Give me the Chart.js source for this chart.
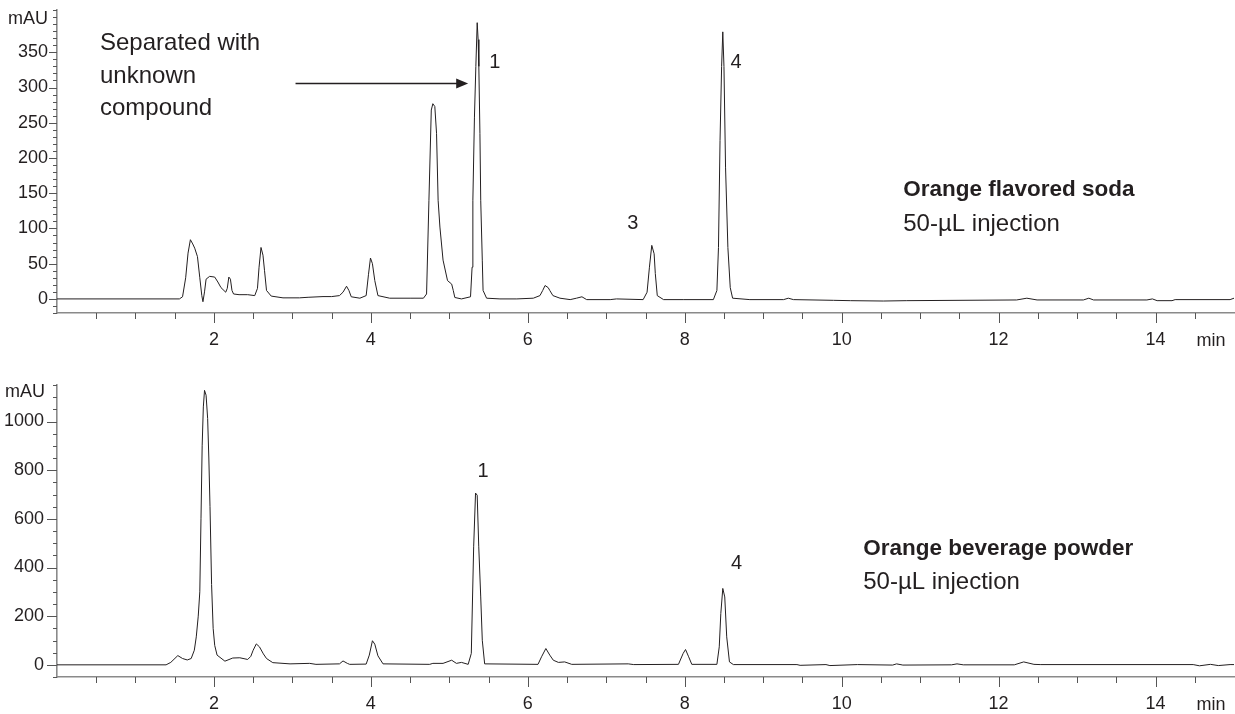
<!DOCTYPE html>
<html>
<head>
<meta charset="utf-8">
<script src="https://cdn.jsdelivr.net/npm/chart.js@4.4.1/dist/chart.umd.min.js"></script>
<style>
  html, body { margin: 0; padding: 0; background: #fff; }
  #wrap { position: relative; width: 1235px; height: 714px; }
  canvas { position: absolute; left: 0; }
  #sodaChart { top: 0; }
  #powderChart { top: 357px; }
</style>
</head>
<body>
<div id="wrap">
  <canvas id="sodaChart" width="1235" height="357"></canvas>
  <canvas id="powderChart" width="1235" height="357"></canvas>
</div>
<script>
const FONT = "'Liberation Sans', Arial, sans-serif";
const INK = '#231f20';
const AXIS = '#8a8a8a';
const TICK = '#555555';

// Orange flavored soda (min / mAU)
const sodaTime = [
  0, 1.56, 1.60, 1.64, 1.67, 1.70, 1.73, 1.755, 1.79, 1.82,
  1.845, 1.86, 1.88, 1.90, 1.945, 2.01, 2.05, 2.09, 2.15, 2.17,
  2.19, 2.21, 2.23, 2.25, 2.32, 2.43, 2.52, 2.555, 2.575, 2.60,
  2.625, 2.645, 2.67, 2.73, 2.88, 3.09, 3.20, 3.39, 3.50, 3.60,
  3.645, 3.69, 3.72, 3.75, 3.86, 3.94, 3.97, 3.995, 4.02, 4.05,
  4.09, 4.24, 4.50, 4.67, 4.71, 4.74, 4.77, 4.79, 4.815, 4.837,
  4.857, 4.88, 4.92, 4.977, 5.03, 5.05, 5.07, 5.155, 5.27, 5.29,
  5.30, 5.32, 5.338, 5.355, 5.367, 5.376, 5.39, 5.40, 5.42, 5.43,
  5.475, 5.645, 5.86, 6.07, 6.155, 6.19, 6.22, 6.26, 6.28, 6.32,
  6.41, 6.54, 6.62, 6.69, 6.75, 7.05, 7.13, 7.47, 7.52, 7.55,
  7.58, 7.61, 7.625, 7.65, 7.73, 7.98, 8.365, 8.41, 8.43, 8.45,
  8.47, 8.485, 8.50, 8.52, 8.55, 8.58, 8.61, 8.83, 9.26, 9.32,
  9.385, 9.895, 10.11, 10.53, 10.83, 12.23, 12.36, 12.49, 13.08, 13.15,
  13.21, 13.89, 13.96, 14.02, 14.21, 14.25, 14.95, 15.0
];
const sodaAbs = [
  0, 0, 3, 30, 65, 84, 78, 72, 60, 30,
  5, -4, 10, 28, 32, 31, 24, 16, 9.5, 15,
  31, 28, 12, 7, 6, 6, 4.7, 15, 45, 73,
  62, 40, 12, 4, 1.5, 1.5, 2.3, 3.3, 3.3, 4.7,
  9.5, 18, 12, 3, 1, 4.7, 35, 58, 50, 26,
  4.7, 1, 1, 1, 7, 140, 268, 277, 273, 235,
  140, 102, 55, 26, 21, 12, 2, 0, 3, 45,
  140, 258, 330, 392, 368, 330, 235, 140, 55, 12,
  1, 0, 0, 1, 4.7, 12, 19, 16, 12, 4.7,
  1, -1, 1, 3, -1, -1, 0, -1, 9.5, 45,
  76, 64, 36, 4.7, -1, -1, -1, 12, 73, 225,
  330, 379, 330, 187, 73, 16, 1, -1, -1, 1,
  -1, -2, -2.5, -3, -2.5, -1.5, 1, -1.5, -1.5, 1,
  -1.5, -1.5, 0, -2.5, -2.5, -1, -1, 1
];

// Orange beverage powder (min / mAU)
const powderTime = [
  0, 1.39, 1.45, 1.54, 1.60, 1.66, 1.71, 1.75, 1.775, 1.80,
  1.82, 1.835, 1.85, 1.865, 1.88, 1.90, 1.92, 1.935, 1.95, 1.97,
  1.99, 2.01, 2.04, 2.14, 2.24, 2.33, 2.43, 2.47, 2.50, 2.54,
  2.58, 2.63, 2.67, 2.75, 2.97, 3.22, 3.30, 3.60, 3.645, 3.70,
  3.73, 3.94, 3.98, 4.02, 4.05, 4.09, 4.155, 4.75, 4.79, 4.92,
  5.03, 5.09, 5.155, 5.24, 5.28, 5.31, 5.334, 5.355, 5.375, 5.40,
  5.42, 5.45, 6.13, 6.175, 6.23, 6.28, 6.325, 6.39, 6.47, 6.56,
  7.28, 7.35, 7.92, 7.98, 8.01, 8.05, 8.09, 8.41, 8.44, 8.46,
  8.485, 8.51, 8.535, 8.57, 8.62, 9.43, 9.47, 9.80, 9.85, 10.20,
  10.65, 10.70, 10.78, 11.40, 11.47, 11.55, 12.20, 12.32, 12.45, 12.53,
  14.48, 14.56, 14.70, 14.80, 14.95, 15.0
];
const powderAbs = [
  0, 0, 10, 38, 26, 20, 26, 60, 115, 200,
  300, 600, 900, 1060, 1128, 1108, 1012, 850, 650, 330,
  150, 80, 40, 15, 28, 29, 22, 35, 60, 86,
  74, 45, 26, 9, 4, 6, 2, 4, 16, 6,
  2, 3, 40, 99, 85, 37, 4, 2, 6, 6,
  19, 6, 10, 2, 47, 485, 706, 697, 485, 279,
  101, 4, 2, 33, 67, 40, 19, 10, 12, 2,
  4, 1, 2, 47, 63, 33, 2, 2, 74, 211,
  314, 279, 115, 12, 1, 1, -2, 1, -3, 1,
  -1, 4, -1, 0, 4, 0, 0, 12, 2, 1,
  1, -4, 2, -3, 1, 1
];

// axis labels
const timeLabels = [2, 4, 6, 8, 10, 12, 14];
const sodaYLabels = [0, 50, 100, 150, 200, 250, 300, 350];
const powderYLabels = [0, 200, 400, 600, 800, 1000];

// tick marks, unit labels and free text
const axisDecor = {
  id: 'axisDecor',
  afterDraw(chart, args, opts) {
    const { ctx, chartArea, scales: { x, y } } = chart;
    ctx.save();
    ctx.strokeStyle = TICK;
    ctx.lineWidth = 1;
    ctx.beginPath();
    x.ticks.forEach(t => {
      const px = Math.round(x.getPixelForValue(t.value)) + 0.5;
      const len = timeLabels.includes(t.value) ? 10 : 6;
      ctx.moveTo(px, chartArea.bottom);
      ctx.lineTo(px, chartArea.bottom + len);
    });
    y.ticks.forEach(t => {
      const py = Math.round(y.getPixelForValue(t.value)) + 0.5;
      const len = t.label !== '' ? opts.majorLen : 4;
      ctx.moveTo(chartArea.left - len, py);
      ctx.lineTo(chartArea.left, py);
    });
    ctx.stroke();

    ctx.fillStyle = INK;
    ctx.textBaseline = 'middle';
    ctx.font = '18px ' + FONT;
    ctx.textAlign = 'center';
    ctx.fillText('min', 1211, chartArea.bottom + 28);
    ctx.textAlign = 'right';
    ctx.fillText('mAU', opts.unitRight, chartArea.top + opts.unitDrop);

    ctx.textBaseline = 'alphabetic';
    opts.notes.forEach(n => {
      ctx.font = (n.bold ? 'bold ' : '') + n.size + 'px ' + FONT;
      ctx.textAlign = n.align || 'left';
      ctx.fillText(n.text, x.getPixelForValue(n.t), y.getPixelForValue(n.v));
    });

    (opts.arrows || []).forEach(a => {
      const x0 = x.getPixelForValue(a.from), x1 = x.getPixelForValue(a.to);
      const py = Math.round(y.getPixelForValue(a.v)) + 0.5;
      ctx.strokeStyle = INK;
      ctx.lineWidth = 1.6;
      ctx.beginPath();
      ctx.moveTo(x0, py);
      ctx.lineTo(x1 - 10, py);
      ctx.stroke();
      ctx.beginPath();
      ctx.moveTo(x1, py);
      ctx.lineTo(x1 - 12, py - 5);
      ctx.lineTo(x1 - 12, py + 5);
      ctx.closePath();
      ctx.fill();
    });
    ctx.restore();
  }
};

function xAxis(height) {
  return {
    type: 'linear', min: 0, max: 15,
    afterBuildTicks(scale) {
      const list = [];
      for (let k = 1; k <= 29; k++) list.push({ value: k / 2 });
      scale.ticks = list;
    },
    afterFit(scale) { scale.height = height; scale.paddingLeft = 0; scale.paddingRight = 0; },
    ticks: {
      autoSkip: false, maxRotation: 0, padding: 16, color: INK,
      font: { family: FONT, size: 18 },
      callback: v => timeLabels.includes(v) ? String(v) : ''
    },
    grid: { display: true, drawOnChartArea: false, drawTicks: false },
    border: { display: true, color: AXIS, width: 1.6 }
  };
}

function yAxis(min, max, step, labelled, pad) {
  return {
    type: 'linear', min, max,
    afterBuildTicks(scale) {
      const list = [];
      for (let v = min; v <= max + 0.001; v += step) list.push({ value: v });
      scale.ticks = list;
    },
    afterFit(scale) { scale.width = 57; scale.paddingTop = 0; scale.paddingBottom = 0; },
    ticks: {
      autoSkip: false, padding: pad, color: INK,
      font: { family: FONT, size: 18 },
      callback: v => labelled.includes(v) ? String(v) : ''
    },
    grid: { display: true, drawOnChartArea: false, drawTicks: false },
    border: { display: true, color: AXIS, width: 1.6 }
  };
}

function trace(times, values) {
  return times.map((t, i) => ({ x: t, y: values[i] }));
}

function makeChart(id, times, values, yOpts, xHeight, padTop, decor) {
  return new Chart(document.getElementById(id), {
    type: 'line',
    data: {
      datasets: [{
        data: trace(times, values),
        borderColor: INK,
        borderWidth: 1,
        pointRadius: 0,
        tension: 0,
        fill: false
      }]
    },
    options: {
      responsive: false,
      animation: false,
      layout: { padding: { top: padTop, right: 1, left: 0, bottom: 0 } },
      scales: { x: xAxis(xHeight), y: yOpts },
      plugins: {
        legend: { display: false },
        tooltip: { enabled: false },
        axisDecor: decor
      }
    },
    plugins: [axisDecor]
  });
}

makeChart('sodaChart', sodaTime, sodaAbs, yAxis(-20, 410, 10, sodaYLabels, 9), 44, 10, {
  majorLen: 8, unitRight: 48, unitDrop: 9,
  notes: [
    { text: 'Separated with', t: 0.548, v: 353, size: 24 },
    { text: 'unknown', t: 0.548, v: 306, size: 24 },
    { text: 'compound', t: 0.548, v: 261, size: 24 },
    { text: '1', t: 5.58, v: 327, size: 20, align: 'center' },
    { text: '3', t: 7.337, v: 99, size: 20, align: 'center' },
    { text: '4', t: 8.653, v: 327, size: 20, align: 'center' },
    { text: 'Orange flavored soda', t: 10.785, v: 146.7, size: 22.5, bold: true },
    { text: '50-µL injection', t: 10.785, v: 96.8, size: 24 }
  ],
  arrows: [{ from: 3.04, to: 5.24, v: 305.7 }]
});

makeChart('powderChart', powderTime, powderAbs, yAxis(-50, 1150, 50, powderYLabels, 13), 37, 28, {
  majorLen: 10, unitRight: 45, unitDrop: 7,
  notes: [
    { text: '1', t: 5.43, v: 771, size: 20, align: 'center' },
    { text: '4', t: 8.66, v: 392, size: 20, align: 'center' },
    { text: 'Orange beverage powder', t: 10.275, v: 451, size: 22.5, bold: true },
    { text: '50-µL injection', t: 10.275, v: 310, size: 24 }
  ],
  arrows: []
});
</script>
</body>
</html>
